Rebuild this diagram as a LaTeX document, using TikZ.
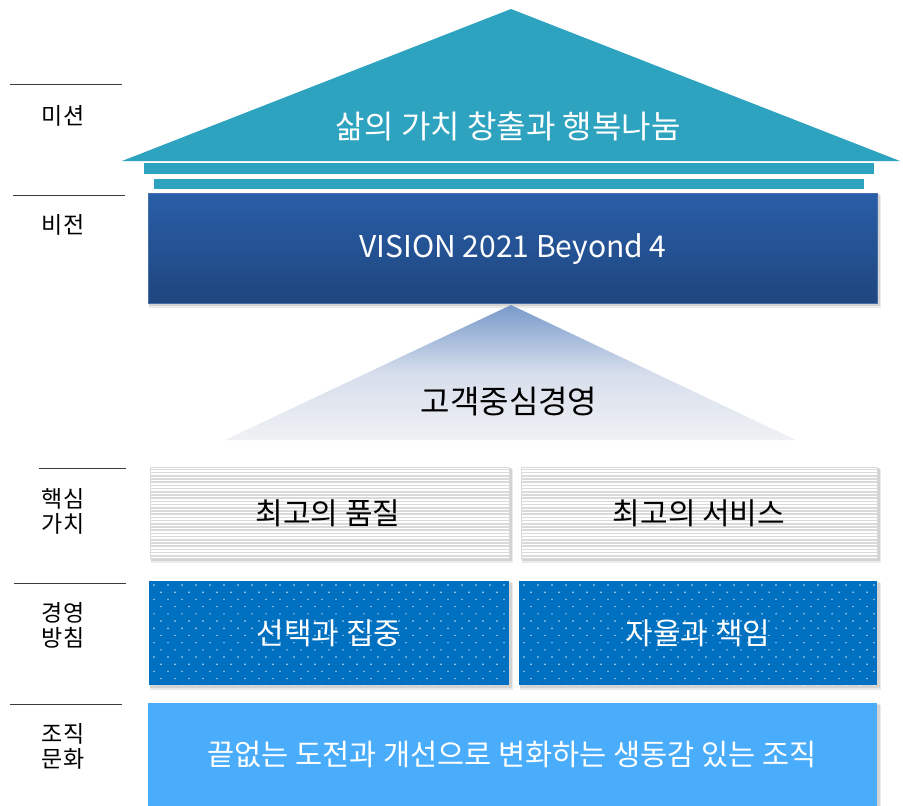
\documentclass[tikz,border=0pt]{standalone}
\usepackage{fontspec}
\setmainfont{Noto Sans CJK KR}
\definecolor{roof}{RGB}{45,163,191}
\definecolor{visTop}{RGB}{41,94,168}
\definecolor{visBot}{RGB}{31,70,126}
\definecolor{visEdge}{RGB}{70,110,170}
\definecolor{triTop}{RGB}{120,154,202}
\definecolor{triMid}{RGB}{214,222,236}
\definecolor{triBot}{RGB}{240,241,244}
\definecolor{dotBlue}{RGB}{0,112,192}
\definecolor{cultBlue}{RGB}{74,173,252}
\definecolor{stripeGray}{RGB}{218,218,218}
\definecolor{lineGray}{RGB}{60,60,60}
\tikzset{
  lbl/.style={font=\fontsize{23}{25}\selectfont, text=black, align=center, inner sep=0pt},
  white text/.style={text=white, inner sep=0pt},
  dark text/.style={text=black, inner sep=0pt},
  sideline/.style={draw=lineGray, line width=0.9pt},
  shadowA/.style={fill=black, opacity=0.10},
  shadowB/.style={fill=black, opacity=0.08},
}
\newcommand\softshadow[4]{%
  \fill[shadowB] (#1+1,#2+2) rectangle (#3+4,#4+5);
  \fill[shadowA] (#1+1,#2+1) rectangle (#3+2.5,#4+3);
}
\newcommand\stripebox[4]{%
  \softshadow{#1}{#2}{#3}{#4}
  \begin{scope}
    \clip (#1,#2) rectangle (#3,#4);
    \fill[stripeGray] (#1,#2) rectangle (#3,#4);
    \foreach \yy in {0,3.2,...,95} {\draw[white, line width=1.6pt] (#1,#2+\yy+0.8) -- (#3,#2+\yy+0.8);}
  \end{scope}
  \draw[white!85!black, line width=0.4pt] (#1,#2) rectangle (#3,#4);
}
\newcommand\dotbox[4]{%
  \softshadow{#1}{#2}{#3}{#4}
  \begin{scope}
    \clip (#1,#2) rectangle (#3,#4);
    \fill[dotBlue] (#1,#2) rectangle (#3,#4);
    \foreach \r in {0,...,14} {
      \pgfmathsetmacro\off{mod(\r,2)*7}
      \foreach \c in {0,...,26} {
        \fill[white, opacity=0.8] (#1+5+\off+\c*14, #2+4+\r*7.2) circle (0.8pt);
      }
    }
  \end{scope}
}
\begin{document}
\begin{tikzpicture}[x=1pt,y=-1pt]
\useasboundingbox (0,0) rectangle (903,806);

% ---- left labels and rules
\draw[sideline] (10,84) -- (122,84);
\node[lbl] (lmission) at (63,116) {미션};
\draw[sideline] (13,195) -- (125,195);
\node[lbl] (lvision) at (63,225) {비전};
\draw[sideline] (39,468) -- (126,468);
\node[lbl] (lcore) at (63,511) {핵심\\가치};
\draw[sideline] (14,583) -- (126,583);
\node[lbl] (lpolicy) at (63,625) {경영\\방침};
\draw[sideline] (10,704) -- (122,704);
\node[lbl] (lculture) at (63,746) {조직\\문화};

% ---- roof
\fill[roof] (122,161) -- (511,9) -- (900,161) -- cycle;
\fill[roof] (144,163) rectangle (874,174);
\fill[roof] (154,179) rectangle (864,189);
\node[white text, font=\fontsize{32}{36}\selectfont] (mission) at (508,126) {삶의 가치 창출과 행복나눔};

% ---- vision box
\softshadow{148}{193}{877}{303}
\shade[top color=visTop, bottom color=visBot] (148,193) rectangle (877,303);
\draw[visEdge, line width=0.6pt] (148,193) rectangle (877,303);
\node[white text, font=\fontsize{30}{34}\selectfont] (vision) at (513,249) {VISION 2021 Beyond 4};

% ---- customer-centred triangle
\shade[top color=triTop, bottom color=triBot, middle color=triMid] (511,305) -- (796,440) -- (225,440) -- cycle;
\node[dark text, font=\fontsize{32}{36}\selectfont] (customer) at (509,402) {고객중심경영};

% ---- core values
\stripebox{150}{467}{509}{558}
\stripebox{521}{467}{877}{558}
\node[dark text, font=\fontsize{30}{33}\selectfont] (quality) at (328,513) {최고의 품질};
\node[dark text, font=\fontsize{30}{33}\selectfont] (service) at (699,513) {최고의 서비스};

% ---- management policy
\dotbox{149}{581}{509}{685}
\dotbox{519}{581}{877}{685}
\node[white text, font=\fontsize{30}{33}\selectfont] (focus) at (329,633) {선택과 집중};
\node[white text, font=\fontsize{30}{33}\selectfont] (autonomy) at (698,633) {자율과 책임};

% ---- culture
\softshadow{148}{703}{877}{810}
\fill[cultBlue] (148,703) rectangle (877,810);
\node[white text, font=\fontsize{29.5}{33}\selectfont] (culture) at (512,754) {끝없는 도전과 개선으로 변화하는 생동감 있는 조직};
\end{tikzpicture}
\end{document}
